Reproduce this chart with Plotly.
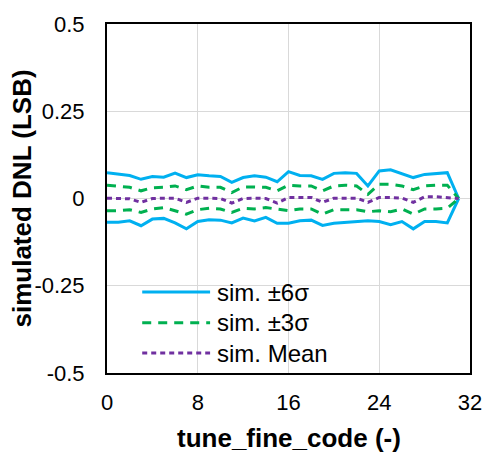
import plotly.graph_objects as go

code = list(range(32))
pos6 = [0.074, 0.070, 0.066, 0.055, 0.063, 0.061, 0.073, 0.060, 0.068, 0.065, 0.063, 0.046, 0.060, 0.065, 0.061, 0.048,
        0.077, 0.066, 0.065, 0.055, 0.072, 0.074, 0.072, 0.036, 0.079, 0.082, 0.072, 0.060, 0.069, 0.072, 0.074, 0.0]
neg6 = [-0.068, -0.068, -0.064, -0.078, -0.059, -0.057, -0.070, -0.087, -0.066, -0.061, -0.062, -0.070, -0.056, -0.064, -0.054, -0.071,
        -0.071, -0.064, -0.062, -0.077, -0.071, -0.068, -0.066, -0.064, -0.066, -0.075, -0.066, -0.087, -0.066, -0.066, -0.070, 0.0]
pos3 = [0.038, 0.036, 0.032, 0.022, 0.031, 0.032, 0.036, 0.025, 0.036, 0.032, 0.032, 0.017, 0.033, 0.033, 0.032, 0.022,
        0.038, 0.036, 0.036, 0.022, 0.036, 0.038, 0.036, 0.012, 0.041, 0.041, 0.036, 0.025, 0.036, 0.038, 0.038, 0.0]
neg3 = [-0.035, -0.035, -0.032, -0.040, -0.030, -0.026, -0.035, -0.045, -0.032, -0.028, -0.030, -0.040, -0.028, -0.030, -0.026, -0.030,
        -0.035, -0.030, -0.030, -0.045, -0.032, -0.032, -0.032, -0.038, -0.035, -0.038, -0.030, -0.045, -0.030, -0.030, -0.028, 0.0]
mean = [0.001, 0.0, -0.001, -0.011, 0.0, 0.001, 0.001, -0.011, 0.001, 0.001, 0.0, -0.013, 0.0, 0.001, 0.0, -0.013,
        0.003, 0.003, 0.003, -0.011, 0.001, 0.001, 0.001, -0.011, 0.003, 0.003, 0.001, -0.011, 0.005, 0.005, 0.003, 0.0]

x_ticks = [0, 8, 16, 24, 32]
y_ticks = [0.5, 0.25, 0, -0.25, -0.5]
y_tick_text = ["0.5", "0.25", "0", "-0.25", "-0.5"]
legend_names = ["sim. \u00b16\u03c3", "sim. \u00b13\u03c3", "sim. Mean"]

BLUE = "#00B0F0"
GREEN = "#00B050"
PURPLE = "#7030A0"
FONT = "Liberation Sans, Arial, sans-serif"

styles = [
    dict(color=BLUE, width=3, dash="solid"),
    dict(color=GREEN, width=3, dash="9px,7px"),
    dict(color=PURPLE, width=3, dash="5px,4px"),
]

fig = go.Figure()
series = [(pos6, 0), (neg6, 0), (pos3, 1), (neg3, 1), (mean, 2)]
for ys, si in series:
    fig.add_trace(go.Scatter(x=code, y=ys, mode="lines", line=styles[si],
                             showlegend=False, hoverinfo="skip"))

# manual legend (long sample lines like the reference)
leg_y = [0.232, 0.144, 0.057]
for i, name in enumerate(legend_names):
    fig.add_shape(type="line", xref="paper", yref="paper",
                  x0=0.097, x1=0.284, y0=leg_y[i], y1=leg_y[i], line=styles[i])
    fig.add_annotation(xref="paper", yref="paper", x=0.298, y=leg_y[i],
                       text=name, showarrow=False, xanchor="left", yanchor="middle",
                       font=dict(family=FONT, size=24, color="#000000"))

fig.add_annotation(xref="paper", yref="paper", x=0.5, y=0, yshift=-65,
                   text="<b>tune_fine_code (-)</b>", showarrow=False,
                   xanchor="center", yanchor="middle",
                   font=dict(family=FONT, size=26, color="#000000"))
fig.add_annotation(xref="paper", yref="paper", x=0, y=0.5, xshift=-86,
                   text="<b>simulated DNL (LSB)</b>", showarrow=False, textangle=-90,
                   xanchor="center", yanchor="middle",
                   font=dict(family=FONT, size=26, color="#000000"))

fig.update_layout(
    width=494, height=457,
    margin=dict(l=107, r=17, t=20, b=84),
    paper_bgcolor="white", plot_bgcolor="white",
    font=dict(family=FONT, size=22, color="#000000"),
    xaxis=dict(range=[0, 32], tickvals=x_ticks, showgrid=True, gridcolor="#D9D9D9", gridwidth=1,
               showline=True, linecolor="black", linewidth=2, mirror=True, zeroline=False,
               ticks="", ticklabelstandoff=9, tickfont=dict(size=22)),
    yaxis=dict(range=[-0.5, 0.5], tickvals=y_ticks, ticktext=y_tick_text, showgrid=True,
               gridcolor="#D9D9D9", gridwidth=1, showline=True, linecolor="black", linewidth=2,
               mirror=True, zeroline=False, ticks="", ticklabelstandoff=16, tickfont=dict(size=22)),
)

fig.write_html("out.html")
